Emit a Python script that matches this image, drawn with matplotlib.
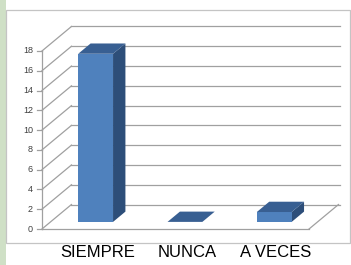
import matplotlib
matplotlib.use("Agg")
import matplotlib.pyplot as plt
from matplotlib.patches import Polygon, Rectangle

categories = ["SIEMPRE", "NUNCA", "A VECES"]
values = [17, 0, 1]
yticks = [0, 2, 4, 6, 8, 10, 12, 14, 16, 18]

# oblique projection parameters (data units)
DX = 0.330      # x shift for full depth
DY = 2.477      # y (value) shift for full depth
Z0, Z1 = 0.29, 0.71   # bar depth range
BW = 0.39       # bar width

def P(x, y, z):
    return (x + z * DX, y + z * DY)

fig = plt.figure(figsize=(3.51, 2.65), dpi=100)
fig.patch.set_facecolor("white")
# green strip on left
fig.patches.append(Rectangle((0, 0), 6 / 351, 1, transform=fig.transFigure,
                             facecolor="#cfe0c6", edgecolor="none", zorder=0))
# chart border
fig.patches.append(Rectangle((6 / 351, 1 - 243 / 265), 350 / 351 - 6 / 351, (243 - 10) / 265,
                             transform=fig.transFigure, facecolor="white",
                             edgecolor="#c4c4c4", linewidth=0.9, zorder=1))

ax = fig.add_axes([0, 0, 1, 1])
ax.set_zorder(5)
ax.set_xlim(-0.975, 2.955)
ax.set_ylim(-3.64, 23.155)
ax.axis("off")
ax.patch.set_alpha(0)

xl, xr = -0.505, 2.485
gc = "#a0a0a0"
lw = 0.9
# back wall gridlines and left diagonals
for v in yticks:
    a = P(xl, v, 1); b = P(xr, v, 1)
    ax.plot([a[0], b[0] + 0.015], [a[1], b[1]], color=gc, lw=lw, zorder=2)
    c = P(xl, v, 0)
    ax.plot([c[0], a[0]], [c[1], a[1]], color=gc, lw=lw, zorder=2)
# floor front edge and right edge
ax.plot([xl, xr], [0, 0], color=gc, lw=lw, zorder=2)
r0 = P(xr, 0, 0); r1 = P(xr, 0, 1)
ax.plot([r0[0], r1[0]], [r0[1], r1[1]], color=gc, lw=lw, zorder=2)
# front vertical axis + ticks
ax.plot([xl, xl], [0, yticks[-1]], color=gc, lw=lw, zorder=2)
for v in yticks:
    ax.plot([xl - 0.055, xl], [v, v], color=gc, lw=lw, zorder=2)
    ax.text(xl - 0.1, v, str(v), ha="right", va="center", fontsize=6.5,
            color="#404040", family="Liberation Sans")

front_c = "#4f81bd"
top_c = "#385f92"
side_c = "#2d4e79"
for i, v in enumerate(values):
    x0, x1 = i - BW / 2, i + BW / 2
    if v > 0:
        front = [P(x0, 0, Z0), P(x1, 0, Z0), P(x1, v, Z0), P(x0, v, Z0)]
        side = [P(x1, 0, Z0), P(x1, 0, Z1), P(x1, v, Z1), P(x1, v, Z0)]
        ax.add_patch(Polygon(side, closed=True, facecolor=side_c, edgecolor="none", zorder=3))
        ax.add_patch(Polygon(front, closed=True, facecolor=front_c, edgecolor="none", zorder=4))
    top = [P(x0, v, Z0), P(x1, v, Z0), P(x1, v, Z1), P(x0, v, Z1)]
    ax.add_patch(Polygon(top, closed=True, facecolor=top_c, edgecolor="none", zorder=4))

for i, name in enumerate(categories):
    ax.text(i + DX * 0.35, -2.4, name, ha="center", va="center", fontsize=12,
            color="black", family="Liberation Sans")

fig.savefig("out.png", dpi=100, facecolor=fig.get_facecolor())
